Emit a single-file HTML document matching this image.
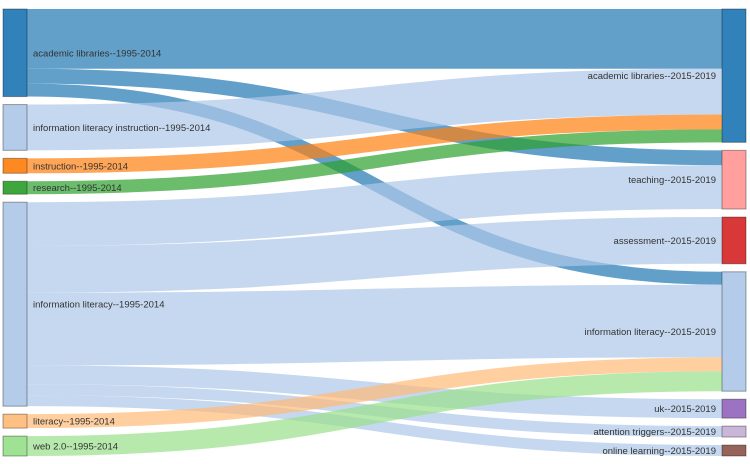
<!DOCTYPE html>
<html><head><meta charset="utf-8"><style>
html,body{margin:0;padding:0;background:#fff;}
svg{display:block;font-family:"Liberation Sans",sans-serif;}
</style></head><body>
<svg id="chart" width="750" height="464" viewBox="0 0 750 464">
<g id="links"></g>
<g id="nodes"></g>
</svg>
<script>
const nodeNames = ["academic libraries--1995-2014","information literacy instruction--1995-2014","instruction--1995-2014","research--1995-2014","information literacy--1995-2014","literacy--1995-2014","web 2.0--1995-2014",
"academic libraries--2015-2019","teaching--2015-2019","assessment--2015-2019","information literacy--2015-2019","uk--2015-2019","attention triggers--2015-2019","online learning--2015-2019"];
const nodeColumns = [0,0,0,0,0,0,0,1,1,1,1,1,1,1];
const nodeColors = ["#1f77b4","#aec7e8","#ff7f0e","#2ca02c","#aec7e8","#ffbb78","#98df8a","#1f77b4","#ff9896","#d62728","#aec7e8","#9467bd","#c5b0d5","#8c564b"];
const linkSources = [0,0,0,1,2,3,4,4,4,4,4,4,5,6];
const linkTargets = [7,8,10,7,7,7,8,9,10,11,12,13,10,10];
const linkValues  = [60,15,13,46,15,13,44,47,73,19,11,11,14,20];

const NS="http://www.w3.org/2000/svg";
const colX=[3,722], nodeW=24, pad=8, topY=9, ky=0.995;
const nodes=nodeNames.map((n,i)=>({name:n,col:nodeColumns[i],color:nodeColors[i],out:[],inn:[]}));
const links=linkValues.map((v,i)=>({s:nodes[linkSources[i]],t:nodes[linkTargets[i]],v:v,src:linkSources[i]}));
links.forEach(l=>{l.s.out.push(l);l.t.inn.push(l);});
[0,1].forEach(c=>{let y=topY;nodes.filter(n=>n.col===c).forEach(n=>{
  const v=Math.max(n.out.reduce((a,l)=>a+l.v,0),n.inn.reduce((a,l)=>a+l.v,0));
  n.y0=y;n.y1=y+v*ky;n.x0=colX[c];n.x1=colX[c]+nodeW;y=n.y1+pad;});});
nodes.forEach(n=>{
  let y=n.y0;n.out.sort((a,b)=>a.t.y0-b.t.y0).forEach(l=>{l.sy=y+l.v*ky/2;y+=l.v*ky;});
  y=n.y0;n.inn.sort((a,b)=>a.s.y0-b.s.y0).forEach(l=>{l.ty=y+l.v*ky/2;y+=l.v*ky;});
});
const gl=document.getElementById('links');
links.forEach(l=>{
  const x0=l.s.x1,x1=l.t.x0,xm=(x0+x1)/2;
  const p=document.createElementNS(NS,'path');
  p.setAttribute('d',`M${x0},${l.sy}C${xm},${l.sy} ${xm},${l.ty} ${x1},${l.ty}`);
  p.setAttribute('fill','none');p.setAttribute('stroke',nodeColors[l.src]);
  p.setAttribute('stroke-opacity','0.7');p.setAttribute('stroke-width',Math.max(1,l.v*ky));
  
  
  gl.appendChild(p);
});
const gn=document.getElementById('nodes');
nodes.forEach(n=>{
  const r=document.createElementNS(NS,'rect');
  r.setAttribute('x',n.x0);r.setAttribute('y',n.y0);r.setAttribute('width',nodeW);r.setAttribute('height',n.y1-n.y0);
  r.setAttribute('fill',n.color);r.setAttribute('fill-opacity','0.92');
  r.setAttribute('stroke','#000');r.setAttribute('stroke-opacity','0.35');r.setAttribute('stroke-width','1');
  
  
  gn.appendChild(r);
  const t=document.createElementNS(NS,'text');
  const left=n.col===0;
  t.setAttribute('x',left?n.x1+6:n.x0-6);t.setAttribute('y',(n.y0+n.y1)/2+3.5);
  t.setAttribute('text-anchor',left?'start':'end');t.setAttribute('font-size','9.5');t.setAttribute('fill','#333');
  t.textContent=n.name;
  
  
  gn.appendChild(t);
});
</script>
</body></html>
